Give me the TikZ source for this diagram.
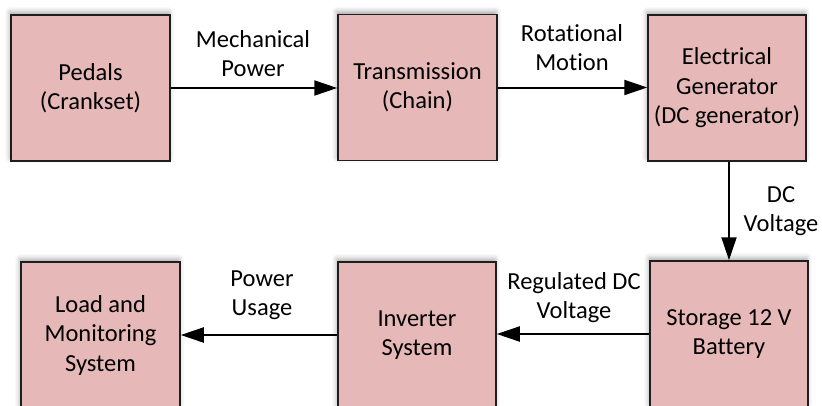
\documentclass[tikz,border=0pt]{standalone}
\usepackage{fontspec}
\setmainfont{Carlito}[RawFeature={-liga;-clig}]
\usetikzlibrary{arrows.meta,shadows.blur}
\definecolor{boxfill}{RGB}{230,184,183}
\definecolor{boxline}{RGB}{30,30,30}
\tikzset{
  blockbox/.style={draw=boxline, line width=1.5pt, fill=boxfill, minimum width=159pt, minimum height=146pt,
    inner sep=0pt, align=center, font=\fontsize{24.5}{29.5}\selectfont,
    blur shadow={shadow xshift=-1pt, shadow yshift=3pt, shadow blur radius=5pt, shadow opacity=35}},
  lbl/.style={align=center, font=\fontsize{24.5}{29}\selectfont, inner sep=0pt},
  flow/.style={line width=2pt, -{Triangle[length=23pt,width=15pt]}}
}
\begin{document}
\begin{tikzpicture}[x=1pt,y=-1pt]
\useasboundingbox (0,0) rectangle (822,405);
\clip (0,0) rectangle (822,405);
\node[blockbox] (pedals) at (90.5,88) {Pedals\\(Crankset)};
\node[blockbox] (trans) at (417.5,87.5) {Transmission\\(Chain)};
\node[blockbox, minimum width=158pt] (gen) at (727,88) {Electrical\\Generator\\(DC generator)};
\node[blockbox] (load) at (100.5,335) {Load and\\Monitoring\\System};
\node[blockbox, minimum width=158pt] (inv) at (417,335) {Inverter\\System};
\node[blockbox, minimum width=158pt] (stor) at (729,334) {Storage 12 V\\Battery};
\draw[flow] (pedals.east) -- (pedals.east -| trans.west);
\draw[flow] (trans.east) -- (trans.east -| gen.west);
\draw[flow] (gen.south -| stor.north) -- (stor.north);
\draw[flow] (stor.west) -- (stor.west -| inv.east);
\draw[flow] (inv.west) -- (inv.west -| load.east);
\node[lbl] (l1) at (253,54) {Mechanical\\Power};
\node[lbl] (l2) at (572,47.5) {Rotational\\Motion};
\node[lbl] (l3) at (781,211) {DC\\Voltage};
\node[lbl] (l4) at (574,297.5) {Regulated DC\\Voltage};
\node[lbl] (l5) at (262,295.5) {Power\\Usage};
\end{tikzpicture}
\end{document}
